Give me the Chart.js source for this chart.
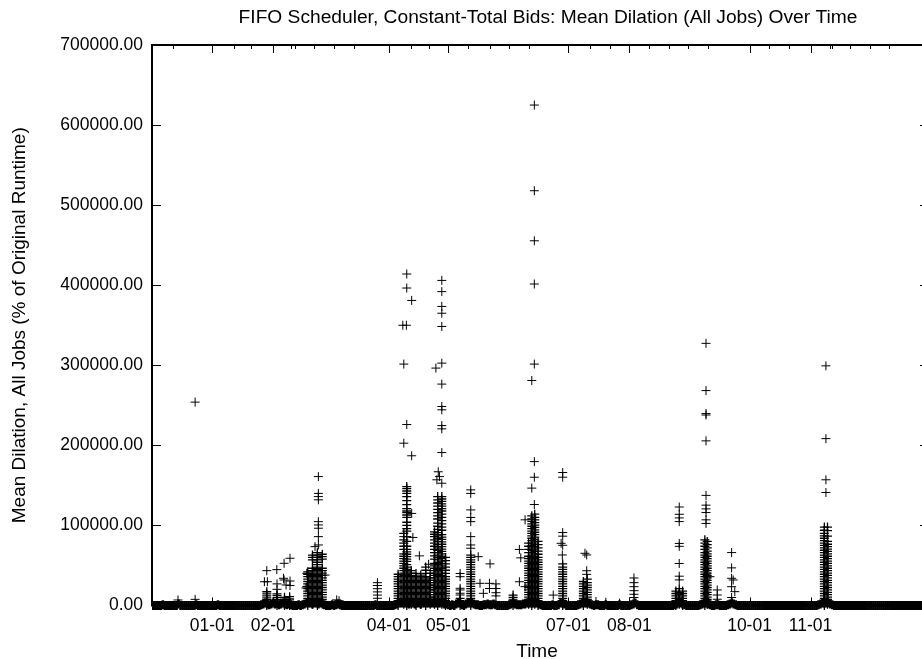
<!DOCTYPE html>
<html>
<head>
<meta charset="utf-8">
<script src="https://cdn.jsdelivr.net/npm/chart.js@4/dist/chart.umd.min.js"></script>
<style>
  html, body { margin: 0; padding: 0; background: #fff; overflow: hidden; }
  canvas { display: block; }
</style>
</head>
<body>
<canvas id="dilation" width="922" height="659"></canvas>
<script>
// x = days since 01-01, y = mean dilation in thousands of %
const titleText = 'FIFO Scheduler, Constant-Total Bids: Mean Dilation (All Jobs) Over Time';
const monthDays = [0, 31, 90, 120, 181, 212, 273, 304];
const monthLabels = ['01-01', '02-01', '04-01', '05-01', '07-01', '08-01', '10-01', '11-01'];
const minorDays = [-20, 11, 20, 40, 42, 52, 62, 72, 101, 110, 130, 141, 151, 161, 192, 202, 222, 232, 242, 252, 283, 293, 314, 315, 324, 334, 344];

// one value per day, starting 30 days before 01-01 (the dense band near zero)
const baselineStart = -30;
const baseline = [
  0,0,0,0,0,1,0,0,0,0,0,0,0,2,0,0,0,0,0,0,
  0,0,1,0,0,0,0,0,0,0,0,0,0,1,0,0,0,0,0,0,
  0,0,0,0,0,0,0,0,0,0,0,0,0,0,0,1,2,3,2,1,
  2,3,2,3,1,2,3,2,1,2,1,0,0,0,1,0,1,2,3,3,
  3,2,3,3,2,3,3,1,0,0,0,1,0,1,2,1,0,0,0,0,
  0,0,0,0,0,0,0,0,0,0,0,0,0,1,0,0,0,0,0,0,
  0,0,0,1,2,3,3,3,3,3,2,3,3,2,3,3,2,3,3,3,
  3,3,3,3,3,3,3,3,2,2,1,0,1,0,2,3,3,1,0,2,
  3,3,3,2,1,1,0,0,1,1,2,1,1,2,1,0,0,0,0,0,
  0,1,2,3,2,1,1,1,2,2,3,3,3,3,3,3,2,1,0,0,
  0,0,0,1,0,0,1,3,3,2,0,0,0,0,0,0,1,2,3,3,
  3,3,2,1,0,1,1,0,0,0,1,0,0,0,0,0,0,1,0,0,
  0,0,0,1,2,3,1,0,0,0,0,0,0,0,0,0,0,0,0,0,
  0,0,0,0,0,1,2,3,3,2,1,0,0,0,0,0,0,0,1,2,
  3,3,2,1,0,0,1,1,0,0,0,0,1,2,3,2,1,0,0,0,
  0,0,0,0,0,0,0,0,0,0,0,0,0,0,0,0,0,0,0,0,
  0,0,0,0,0,0,0,0,0,0,0,0,0,0,0,0,0,0,1,2,
  3,3,3,3,2,1,0,0,0,0,0,0,0,0,0,0,0,0,0,0,
  0,0,0,0,0,0,0,0,0,0,0,0,0,0,0,0,0,0,0,0,
  0,0,0,0,0,0,0,0,0,0,0,0
];

// single visible jobs [day, value]
const lonePoints = [
  [-17.3, 6.9], [-8.6, 7.7], [-8.6, 254],
  [27.8, 43.5], [26.6, 29.7], [28.1, 29.7], [32.9, 44.8], [33.0, 27.0], [33.0, 20.2],
  [36.6, 52.7], [39.6, 59.0], [36.3, 34.0], [36.6, 31.9], [39.6, 30.6], [37.6, 25.6], [39.6, 25.0],
  [54.0, 161], [54.0, 140], [54.0, 136], [54.0, 132], [54.0, 104.7], [54.0, 100.6], [54.0, 96.5],
  [54.0, 86], [54.0, 75.6], [52.3, 73.5], [48.1, 40.2], [47.7, 21.9], [57.4, 38.0], [48.1, 23.5],
  [63.3, 7.0], [64.5, 6.0],
  [84.0, 28.5], [84.0, 25.0], [84.0, 21.0], [84.0, 17.0], [84.0, 13.0], [84.0, 9.0],
  [98.9, 414], [98.9, 396.5], [101.4, 381], [96.9, 350], [98.7, 350], [97.4, 301.5], [98.9, 226],
  [97.4, 202.7], [101.4, 187], [101.4, 115], [102.0, 85], [105.3, 62], [97.4, 86], [110.0, 51.5],
  [116.7, 406], [116.7, 392], [116.7, 373.5], [116.7, 365], [116.7, 348.5], [116.7, 302.7],
  [113.7, 296.5], [116.7, 276.5], [116.7, 248.5], [116.7, 244.4], [116.7, 224.7], [116.7, 220.6],
  [116.7, 191], [114.9, 167], [115.5, 161], [116.7, 152.7], [114.2, 157],
  [126.0, 40.0], [126.0, 36.0], [126.0, 21.5], [126.0, 19.4], [126.0, 15.3], [126.0, 13.1],
  [131.4, 144.4], [131.4, 140], [131.4, 119.4], [131.4, 110], [131.4, 104.7], [131.4, 86],
  [131.4, 75.6], [131.4, 71.5], [135.2, 61.0],
  [136.1, 27.7], [137.8, 15.2], [141.2, 52.0], [140.9, 27.7], [144.2, 27.0], [144.2, 21.2],
  [140.9, 21.2], [144.2, 16.0], [144.2, 12.0],
  [156.1, 70.0], [156.8, 59.5], [156.1, 29.7], [159.0, 23.5],
  [163.7, 625], [163.7, 518], [163.7, 455.5], [163.7, 401.5], [163.7, 301.5], [162.4, 281],
  [163.7, 179.7], [163.7, 160.2], [162.4, 146.6], [163.7, 126.1], [159.0, 107],
  [173.3, 13.0],
  [178.1, 166.1], [178.1, 160.2], [178.1, 91.1], [178.1, 86.6], [177.3, 77.7], [178.1, 75.2], [177.9, 63.1],
  [189.4, 65.2], [190.3, 63.1], [190.3, 43.4], [190.3, 38.9],
  [195, 5], [200, 4], [207, 3],
  [214.3, 34.4], [214.3, 28.5], [214.3, 23.5], [214.3, 18.5], [214.3, 14], [214.3, 10],
  [237.3, 123], [237.3, 113.9], [237.3, 109.4], [237.3, 104.8], [237.3, 77.5], [237.3, 73.9],
  [237.3, 52.5], [237.3, 36.6], [237.3, 32.0],
  [250.9, 327.4], [250.9, 268.4], [250.9, 239.7], [250.9, 237.9], [250.9, 205.6], [250.9, 137.5],
  [250.9, 125.3], [250.9, 120.7], [250.9, 116.1], [250.9, 107.0], [250.9, 102.5],
  [252.9, 36.0], [256.6, 19.4], [256.6, 13.1], [256.6, 7.8],
  [263.9, 66.1], [263.9, 47.0], [263.9, 34.0], [264.7, 31.9], [263.9, 23.5], [265.5, 17.3],
  [263.9, 10], [263.9, 5],
  [311.8, 299.3], [311.8, 208.4], [311.8, 157], [311.8, 141.1]
];

// piles of jobs too close to tell apart: [day, values]
const febStacks = [
  [27.8, [0, 2.4, 4.8, 7.3, 9.6, 12.1, 14.5, 17.2]],
  [33.0, [0, 2.5, 5.1, 7.4, 9.9, 12.3, 14.6]],
  [36.8, [0, 2.6, 5.0, 7.5, 10.2]],
  [39.4, [0, 2.7, 5.3, 8.1, 11.0]]
];
const marStacks = [
  [48.6, [0, 3, 6, 9, 12, 15, 18, 21, 24, 27, 30, 33, 36, 39, 42]],
  [51.0, [1.5, 4.5, 7.5, 10.5, 13.5, 16.5, 19.5, 22.5, 25.5, 28.5, 31.5, 34.5, 37.5, 40.5, 43.5, 46.5, 57, 60, 63]],
  [53.5, [0, 3, 6, 9, 12, 15, 18, 21, 24, 27, 30, 33, 36, 39, 42, 45, 48, 51, 54, 57, 60, 63, 66]],
  [56.0, [1.5, 4.5, 7.5, 10.5, 13.5, 16.5, 19.5, 22.5, 25.5, 28.5, 31.5, 34.5, 37.5, 40.5, 43.5, 46.5, 58, 61, 64]]
];
const aprStacks = [
  [94.5, [0, 3, 6, 9, 12, 15, 18, 21, 24, 27, 30, 33, 36, 39]],
  [97.4, [1.5, 4.5, 7.5, 10.5, 13.5, 16.5, 19.5, 22.5, 25.5, 28.5, 31.5, 34.5, 37.5, 40.5, 43.5, 46.5, 49.5, 52.5, 55.5, 58.5, 61.5, 64.5, 70, 74, 78, 82, 90]],
  [98.9, [0, 3, 6, 9, 12, 15, 18, 21, 24, 27, 30, 33, 36, 39, 42, 45, 48, 51, 55, 58, 61, 64, 67, 70, 74, 80, 86, 93, 96, 100, 104, 110, 113, 116, 118, 121, 126, 131, 136, 140, 143, 146, 148.5]],
  [101.2, [1.5, 4.5, 7.5, 10.5, 13.5, 16.5, 19.5, 22.5, 25.5, 28.5, 31.5, 34.5, 37.5, 40.5, 43.5]],
  [103.6, [0, 3, 6, 9, 12, 15, 18, 21, 24, 27, 30, 33, 36, 40]],
  [106.0, [1.5, 4.5, 7.5, 10.5, 13.5, 16.5, 19.5, 22.5, 25.5, 28.5, 31.5, 34.5, 38]],
  [108.5, [0, 3, 6, 9, 12, 15, 18, 21, 24, 27, 30, 33, 36, 40, 44, 48]],
  [110.8, [1.5, 4.5, 7.5, 10.5, 13.5, 16.5, 19.5, 22.5, 25.5, 28.5, 31.5, 34.5, 40]]
];
const mayStacks = [
  [113.0, [1.5, 4.5, 7.5, 10.5, 13.5, 16.5, 19.5, 22.5, 25.5, 28.5, 31.5, 34.5, 37.5, 40.5, 43.5, 46.5, 49.5, 52.5, 58, 62, 66, 70, 74, 78, 82, 86, 89, 92]],
  [114.6, [0, 3, 6, 9, 12, 15, 18, 21, 24, 27, 30, 33, 36, 39, 42, 45, 48, 51, 54, 57, 60, 63, 66, 69, 72, 76, 80, 84, 88, 91, 95, 99, 103, 108, 112, 116, 120, 124, 128, 132, 136]],
  [116.7, [1.5, 4.5, 7.5, 10.5, 13.5, 16.5, 19.5, 22.5, 25.5, 28.5, 31.5, 34.5, 37.5, 40.5, 43.5, 46.5, 49.5, 52.5, 55.5, 58.5, 61.5, 64.5, 67.5, 70.5, 73.5, 76.5, 79.5, 82.5, 85.5, 88.5, 94, 98, 102, 106, 110, 114, 118, 121, 124, 127, 130, 133, 136]],
  [118.6, [0, 3, 6, 9, 12, 15, 18, 21, 24, 27, 30, 33, 36, 40, 44, 48, 52, 56, 60]],
  [126.0, [0, 3, 6, 9]],
  [131.4, [0, 3, 6, 9, 12, 15, 18, 21, 24, 27, 30, 33, 36, 39, 42, 45, 48, 51, 54, 57, 60, 63]],
  [152.9, [0, 4, 7, 10, 13]]
];
const junStacks = [
  [160.8, [1.5, 4.5, 7.5, 10.5, 13.5, 16.5, 19.5, 22.5, 25.5, 28.5, 31.5, 34.5, 37.5, 40.5, 43.5, 46.5, 49.5, 52.5, 55.5, 58.5, 61.5, 66, 70, 74, 78]],
  [162.4, [0, 3, 6, 9, 12, 15, 18, 21, 24, 27, 30, 33, 36, 39, 42, 45, 48, 51, 54, 57, 60, 63, 66, 69, 72, 75, 78, 81, 84, 87, 90, 93, 96, 99, 102, 105, 108, 112]],
  [163.9, [1.5, 4.5, 7.5, 10.5, 13.5, 16.5, 19.5, 22.5, 25.5, 28.5, 31.5, 34.5, 37.5, 40.5, 43.5, 46.5, 49.5, 52.5, 55.5, 58.5, 61.5, 64.5, 67.5, 70.5, 73.5, 76.5, 79.5, 82.5, 85.5, 88.5, 91.5, 94.5, 97.5, 100.5, 103.5, 107, 110, 114]],
  [165.6, [0, 3, 6, 9, 12, 15, 18, 21, 24, 27, 30, 33, 36, 39, 42, 45, 48, 51, 54, 57, 60, 64, 68, 72, 76, 80]],
  [178.1, [0, 3, 6, 9, 12, 15, 18, 21, 24, 27, 30, 33, 36, 39, 42, 45, 48, 52]],
  [188.6, [0, 3, 6, 9, 12, 15, 18, 21, 24, 27, 30]],
  [190.6, [1.5, 4.5, 7.5, 10.5, 13.5, 16.5, 19.5, 22.5, 25.5, 28.5, 33]]
];
const lateStacks = [
  [235.6, [0, 3, 6, 9, 12, 15, 18]],
  [237.3, [1.5, 4.5, 7.5, 10.5, 13.5, 16.5, 21]],
  [239.0, [0, 3, 6, 9, 12, 15, 18]],
  [250.3, [0, 3, 6, 9, 12, 15, 18, 21, 24, 27, 30, 33, 36, 39, 42, 45, 48, 51, 54, 57, 60, 63, 66, 70, 74, 78, 82]],
  [251.5, [1.5, 4.5, 7.5, 10.5, 13.5, 16.5, 19.5, 22.5, 25.5, 28.5, 31.5, 34.5, 37.5, 40.5, 43.5, 46.5, 49.5, 52.5, 55.5, 58.5, 61.5, 64.5, 68, 72, 76, 80]],
  [311.0, [0, 3, 6, 9, 12, 15, 18, 21, 24, 27, 30, 33, 36, 39, 42, 45, 48, 51, 54, 57, 60, 63, 66, 69, 72, 75, 78, 81, 84, 87, 90, 94, 98]],
  [312.6, [1.5, 4.5, 7.5, 10.5, 13.5, 16.5, 19.5, 22.5, 25.5, 28.5, 31.5, 34.5, 37.5, 40.5, 43.5, 46.5, 49.5, 52.5, 55.5, 58.5, 61.5, 64.5, 67.5, 70.5, 73.5, 76.5, 80, 86.6, 93.4, 97.9]]
];

// build points
var basePts = baseline.map((v, i) => ({ x: baselineStart + i, y: v * 1000 }));
var lonePts = lonePoints.map(p => ({ x: p[0], y: p[1] * 1000 }));
var stackPts = [];
[febStacks, marStacks, aprStacks, mayStacks, junStacks, lateStacks].forEach(group => {
  group.forEach(s => s[1].forEach(v => stackPts.push({ x: s[0], y: v * 1000 })));
});

var FONT = '"Liberation Sans", Arial, sans-serif';
Chart.defaults.font.family = FONT;
Chart.defaults.font.size = 17.5;
Chart.defaults.color = '#000';

// gnuplot style border, inward ticks and the title
var gnuFrame = {
  id: 'gnuFrame',
  afterDraw(chart) {
    var ctx = chart.ctx, a = chart.chartArea, x = chart.scales.x, y = chart.scales.y;
    ctx.save();
    ctx.strokeStyle = '#000';
    ctx.lineWidth = 1;
    ctx.beginPath();
    monthDays.forEach(d => {
      var px = Math.round(x.getPixelForValue(d)) + 0.5;
      ctx.moveTo(px, a.top); ctx.lineTo(px, a.top + 8);
      ctx.moveTo(px, a.bottom); ctx.lineTo(px, a.bottom - 8);
    });
    minorDays.forEach(d => {
      var px = Math.round(x.getPixelForValue(d)) + 0.5;
      ctx.moveTo(px, a.top); ctx.lineTo(px, a.top + 4);
      ctx.moveTo(px, a.bottom); ctx.lineTo(px, a.bottom - 4);
    });
    y.ticks.forEach(t => {
      var py = Math.round(y.getPixelForValue(t.value)) + 0.5;
      ctx.moveTo(a.left, py); ctx.lineTo(a.left + 9, py);
      ctx.moveTo(a.right, py); ctx.lineTo(a.right - 2, py);
    });
    ctx.stroke();
    ctx.lineWidth = 2;
    ctx.beginPath();
    ctx.moveTo(a.right + 2, a.top);
    ctx.lineTo(a.left, a.top);
    ctx.lineTo(a.left, a.bottom);
    ctx.lineTo(a.right + 2, a.bottom);
    ctx.stroke();
    ctx.fillStyle = '#000';
    ctx.font = '19.2px ' + FONT;
    ctx.textAlign = 'center';
    ctx.textBaseline = 'middle';
    ctx.fillText(titleText, 548, 18);
    ctx.restore();
  }
};

var crossStyle = {
  pointStyle: 'cross',
  pointRadius: 4.5,
  borderColor: '#000',
  backgroundColor: '#000',
  clip: { left: 0, top: 10, right: 0, bottom: 6 }
};

var canvas = document.getElementById('dilation');
var chart = new Chart(canvas, {
  type: 'scatter',
  data: {
    datasets: [
      Object.assign({ label: 'near zero', data: basePts, borderWidth: 2.5 }, crossStyle),
      Object.assign({ label: 'piles', data: stackPts, borderWidth: 1.3 }, crossStyle),
      Object.assign({ label: 'Mean Dilation', data: lonePts, borderWidth: 1 }, crossStyle)
    ]
  },
  options: {
    responsive: false,
    animation: false,
    events: [],
    layout: { autoPadding: false, padding: { top: 45, right: 0, bottom: 0, left: 0 } },
    plugins: {
      legend: { display: false },
      tooltip: { enabled: false },
      title: { display: false }
    },
    scales: {
      x: {
        type: 'linear',
        min: -30.5,
        max: 360.6,
        grid: { display: false, drawTicks: false },
        border: { display: false },
        afterFit(s) { s.height = 53.5; s.paddingLeft = 0; s.paddingRight = 0; },
        afterBuildTicks(s) { s.ticks = monthDays.map(d => ({ value: d })); },
        ticks: {
          autoSkip: false,
          maxRotation: 0,
          padding: 10,
          callback: v => monthLabels[monthDays.indexOf(v)]
        },
        title: { display: true, text: 'Time', font: { size: 19 }, padding: { top: 0, bottom: -4 } }
      },
      y: {
        min: 0,
        max: 700000,
        grid: { display: false, drawTicks: false },
        border: { display: false },
        afterFit(s) { s.width = 152; },
        ticks: {
          stepSize: 100000,
          padding: 9,
          callback: v => v.toFixed(2)
        },
        title: { display: true, text: 'Mean Dilation, All Jobs (% of Original Runtime)', font: { size: 19 }, padding: { top: 8, bottom: 0 } }
      }
    }
  },
  plugins: [gnuFrame]
});
</script>
</body>
</html>
